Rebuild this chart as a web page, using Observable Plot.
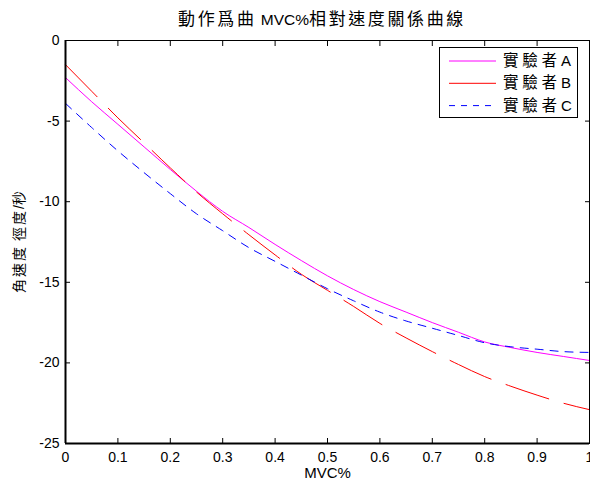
<!DOCTYPE html>
<html><head><meta charset="utf-8">
<script src="https://cdn.jsdelivr.net/npm/d3@7"></script>
<script src="https://cdn.jsdelivr.net/npm/@observablehq/plot@0.6"></script>
<style>
html,body{margin:0;padding:0;background:#fff}
#chart{width:590px;height:482px;overflow:hidden}
</style>
</head><body><div id="chart"></div>
<script>
// ---- data ----
const mvc = [0,0.05,0.1,0.15,0.2,0.25,0.3,0.35,0.4,0.45,0.5,0.55,0.6,0.65,0.7,0.75,0.8,0.85,0.9,0.95,1];
const seriesA = [-2.3,-3.8,-5.2,-6.6,-8.0,-9.35,-10.6,-11.6,-12.65,-13.65,-14.6,-15.45,-16.2,-16.85,-17.5,-18.1,-18.7,-19.05,-19.35,-19.6,-19.85];
const seriesB = [-1.5,-3.15,-4.8,-6.35,-7.9,-9.4,-10.75,-12.05,-13.3,-14.5,-15.5,-16.5,-17.55,-18.45,-19.3,-20.1,-20.85,-21.45,-22.0,-22.5,-22.9];
const seriesC = [-3.9,-5.4,-6.85,-8.2,-9.5,-10.75,-11.8,-12.85,-13.7,-14.55,-15.4,-16.15,-16.85,-17.4,-17.85,-18.3,-18.75,-19.0,-19.15,-19.3,-19.35];
const seriesNames = ["實驗者A","實驗者B","實驗者C"];
const seriesColors = ["#ff00ff","#ff0000","#0000ff"];
const seriesDash = [null,"45,16","8,7"];
const legendDash = [null,null,"6,6"];
const xTicks = [0,0.1,0.2,0.3,0.4,0.5,0.6,0.7,0.8,0.9,1];
const xTickLabels = ["0","0.1","0.2","0.3","0.4","0.5","0.6","0.7","0.8","0.9","1"];
const yTicks = [0,-5,-10,-15,-20,-25];
const yTickLabels = ["0","-5","-10","-15","-20","-25"];
const titleText = "動作爲曲 MVC%相對速度關係曲線";
const xLabelText = "MVC%";
const yLabelText = "角速度 徑度/秒";

const allSeries = [seriesA, seriesB, seriesC];
const rows = [];
allSeries.forEach((vals, i) => vals.forEach((v, j) => rows.push({x: mvc[j], y: v, s: seriesNames[i]})));

const latin = "'Liberation Sans', Arial, sans-serif";
const cjk = "'Noto Sans CJK TC', 'Liberation Sans', sans-serif";

const lineMarks = seriesNames.map((name, i) =>
  Plot.line(rows.filter(d => d.s === name), {
    x: "x", y: "y", stroke: seriesColors[i], strokeWidth: 1,
    strokeDasharray: seriesDash[i], curve: "monotone-x"
  })
);

const plot = Plot.plot({
  width: 590, height: 482,
  marginLeft: 65, marginRight: 1, marginTop: 40, marginBottom: 39,
  style: {fontFamily: latin, fontSize: "14px", background: "white", color: "black"},
  x: {domain: [0, 1]},
  y: {domain: [-25, 0]},
  marks: [
    ...lineMarks,
    Plot.frame({stroke: "black", strokeWidth: 1}),
    Plot.ruleX([0], {stroke: "black", strokeWidth: 2}),
    Plot.ruleY([-25], {stroke: "black", strokeWidth: 2}),
    Plot.axisX(xTicks, {anchor: "bottom", tickSize: 5, tickPadding: 4, label: null,
      tickFormat: d => xTickLabels[xTicks.indexOf(d)]}),
    Plot.axisX(xTicks, {anchor: "top", tickSize: 5, label: null, tickFormat: () => ""}),
    Plot.axisY(yTicks, {anchor: "left", tickSize: 5, tickPadding: 1, label: null,
      tickFormat: d => yTickLabels[yTicks.indexOf(d)]}),
    Plot.axisY(yTicks, {anchor: "right", tickSize: 5, label: null, tickFormat: () => ""}),
    Plot.text([xLabelText], {frameAnchor: "bottom", lineAnchor: "middle", dy: 30, fontSize: 15, text: d => d})
  ]
});

// ticks point inward (MATLAB style)
d3.select(plot).selectAll('g[aria-label$="-axis tick"] path').each(function() {
  const t = this.getAttribute("transform") || "";
  this.setAttribute("transform", t + " scale(-1)");
});

const svg = d3.select(plot);

// helper: write mixed CJK / Latin text with MATLAB-like CJK spacing
function mixedText(sel, str, cjkSize, latinSize, spacing) {
  const parts = str.match(/[\u3000-\u9fff\uff00-\uffef]+|[^\u3000-\u9fff\uff00-\uffef]+/g) || [];
  parts.forEach(p => {
    const isCjk = /[\u3000-\u9fff]/.test(p);
    sel.append("tspan")
      .attr("font-family", isCjk ? cjk : latin)
      .attr("font-size", isCjk ? cjkSize : latinSize)
      .attr("letter-spacing", isCjk ? spacing : 0)
      .text(p);
  });
}

// title
const title = svg.append("text").attr("x", 322).attr("y", 20).attr("dy", "0.35em")
  .attr("text-anchor", "middle").attr("fill", "black");
mixedText(title, titleText, 17, 15.5, 2.6);

// y label
const yl = svg.append("text").attr("transform", "translate(19,241) rotate(-90)")
  .attr("dy", "0.35em").attr("text-anchor", "middle").attr("fill", "black");
mixedText(yl, yLabelText, 14, 14, 2);

// legend box inside the plot (top-right)
const lg = svg.append("g");
lg.append("rect").attr("x", 439.5).attr("y", 47.5).attr("width", 138).attr("height", 70)
  .attr("fill", "white").attr("stroke", "black").attr("stroke-width", 1);
seriesNames.forEach((name, i) => {
  const yy = 61 + i * 22.3;
  lg.append("line").attr("x1", 449).attr("x2", 496).attr("y1", yy).attr("y2", yy)
    .attr("stroke", seriesColors[i]).attr("stroke-width", 1)
    .attr("stroke-dasharray", legendDash[i]);
  const t = lg.append("text").attr("x", 503).attr("y", yy).attr("dy", "0.35em")
    .attr("text-anchor", "start").attr("fill", "black");
  mixedText(t, name, 15.5, 15, 3.8);
});

document.getElementById("chart").appendChild(plot);
</script>
</body></html>
